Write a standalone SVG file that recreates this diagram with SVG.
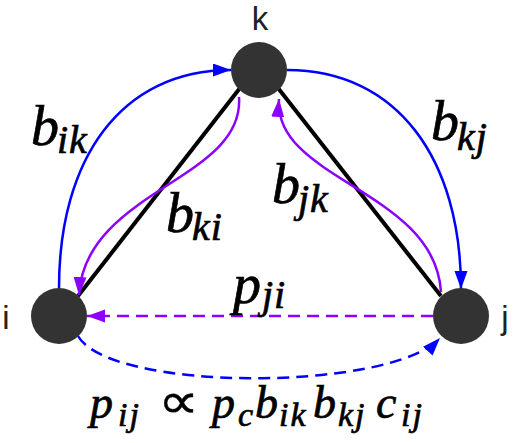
<svg xmlns="http://www.w3.org/2000/svg" width="513" height="443" viewBox="0 0 513 443">
<style>
.node{fill:#333333}
.lbl{font-family:"Liberation Sans","Noto Sans",sans-serif;font-size:33px;fill:#222}
.edge{fill:none;stroke:#000;stroke-width:4}
.blue{fill:none;stroke:#0000ff;stroke-width:2.5}
.purple{fill:none;stroke:#8c00ff;stroke-width:2.5}
.dash{stroke-dasharray:12 7}
.m{font-family:"Liberation Serif","DejaVu Serif",serif;font-style:italic;fill:#000;stroke:#000;stroke-width:0.7}
.big{font-size:56px}
.sub{font-size:40px;letter-spacing:1px}
.fbig{font-size:46px}
.fsub{font-size:34px;letter-spacing:2px}
.prop{font-family:"DejaVu Sans",sans-serif;font-size:50px;fill:#000;stroke:#000;stroke-width:0.4}
</style>
<defs>
<marker id="ab" markerUnits="userSpaceOnUse" markerWidth="20" markerHeight="14" refX="18" refY="6.5" orient="auto">
<path d="M0,0 L18,6.5 L0,13 z" fill="#0000ff"/>
</marker>
<marker id="ap" markerUnits="userSpaceOnUse" markerWidth="20" markerHeight="14" refX="18" refY="6.5" orient="auto">
<path d="M0,0 L18,6.5 L0,13 z" fill="#8c00ff"/>
</marker>
</defs>
<g id="connectors">
<line class="edge" x1="240" y1="88" x2="78" y2="296"/>
<line class="edge" x1="278" y1="88" x2="441" y2="296"/>
<path class="blue" d="M59,288 C59,160 120,70 231,70" marker-end="url(#ab)"/>
<path class="blue" d="M287,70 C398,70 461,160 461,289" marker-end="url(#ab)"/>
<path class="purple" d="M239,97 C245,180 85,190 79,295" marker-end="url(#ap)"/>
<path class="purple" d="M441,292 C435,190 273,180 279,99" marker-end="url(#ap)"/>
<path class="purple dash" d="M433,316 L87,316" marker-end="url(#ap)"/>
<path class="blue dash" d="M78,336 C110,392 390,392 440,338" marker-end="url(#ab)"/>
</g>
<g id="node-k">
<circle class="node" cx="259" cy="70" r="28"/>
<text class="lbl" x="260" y="30" text-anchor="middle">k</text>
</g>
<g id="node-i">
<circle class="node" cx="59" cy="316" r="28"/>
<text class="lbl" x="6" y="329" text-anchor="middle">i</text>
</g>
<g id="node-j">
<circle class="node" cx="461" cy="316" r="28"/>
<text class="lbl" x="505" y="329" text-anchor="middle">j</text>
</g>
<g id="labels">
<text class="m big" x="31" y="145">b<tspan class="sub" x="57" y="153">ik</tspan></text>
<text class="m big" x="431" y="140">b<tspan class="sub" x="457" y="150">kj</tspan></text>
<text class="m big" x="272" y="203">b<tspan class="sub" x="298" y="212">jk</tspan></text>
<text class="m big" x="166" y="232">b<tspan class="sub" x="192" y="240">ki</tspan></text>
<text class="m big" x="233" y="303">p<tspan class="sub" x="262" y="308">ji</tspan></text>
<text class="m fbig" x="90" y="418">p<tspan class="fsub" x="118" y="426">ij</tspan><tspan x="212" y="418">p</tspan><tspan class="fsub" x="238" y="426">c</tspan><tspan x="255" y="418">b</tspan><tspan class="fsub" x="279" y="426">ik</tspan><tspan x="313" y="418">b</tspan><tspan class="fsub" x="338" y="426">kj</tspan><tspan x="376" y="418">c</tspan><tspan class="fsub" x="401" y="426">ij</tspan></text>
<text class="prop" transform="translate(158,418) scale(1.15,1)">∝</text>
</g>
</svg>
